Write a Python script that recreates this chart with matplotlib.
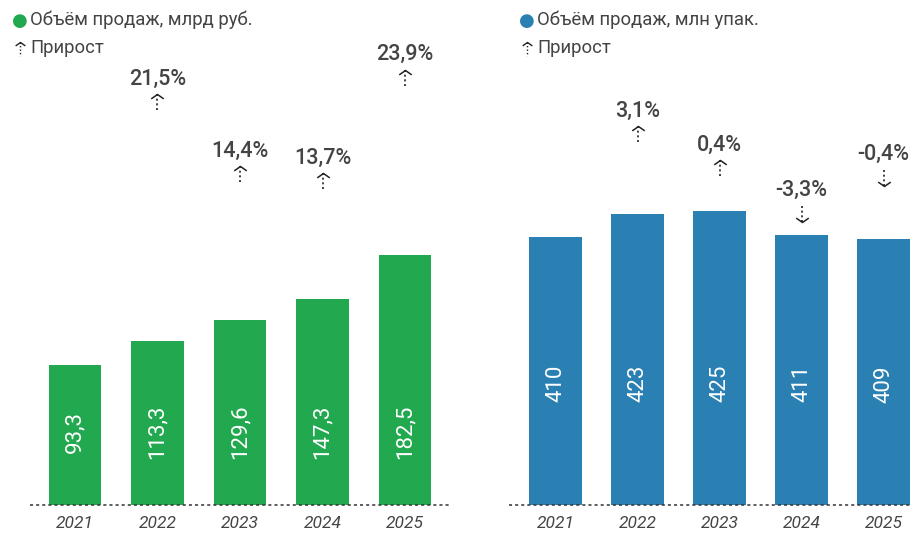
import numpy as np
import matplotlib
matplotlib.use("Agg")
from matplotlib import pyplot as plt
from matplotlib import transforms
from matplotlib.path import Path

plt.rcParams['font.family'] = ['Roboto', 'DejaVu Sans']

# --- data ---
years = ['2021', '2022', '2023', '2024', '2025']
sales_rub = [93.3, 113.3, 129.6, 147.3, 182.5]      # млрд руб.
growth_rub = [21.5, 14.4, 13.7, 23.9]                # % for 2022..2025
sales_pack = [410, 423, 425, 411, 409]               # млн упак.
growth_pack = [3.1, 0.4, -3.3, -0.4]                 # % for 2022..2025

legend_rub = 'Объём продаж, млрд руб.'
legend_pack = 'Объём продаж, млн упак.'
legend_growth = 'Прирост'

GREEN = '#22a84f'
BLUE = '#2a80b2'
TEXT = '#444444'
ARROW = '#222222'

W, H = 922, 534
fig = plt.figure(figsize=(W / 100, H / 100), dpi=100)

# open chevron used as arrow head
chev_up = Path([(-1, -0.7), (0, 0), (1, -0.7)], [Path.MOVETO, Path.LINETO, Path.LINETO])
chev_dn = Path([(-1, 0.7), (0, 0), (1, 0.7)], [Path.MOVETO, Path.LINETO, Path.LINETO])


def px_axes(x0, x1, y_top, y_bot):
    return fig.add_axes([x0 / W, (H - y_bot) / H, (x1 - x0) / W, (y_bot - y_top) / H])


def fmt(v, dec=1):
    return f'{v:.{dec}f}'.replace('.', ',')


def dotted_arrow(ax, x, y, up, dy0, dy1):
    # dotted stem from dy0 to dy1 pixels below (x, y), head on the upper end if up
    top = transforms.offset_copy(ax.transData, fig, x=0, y=-dy0, units='dots')
    bot = transforms.offset_copy(ax.transData, fig, x=0, y=-dy1, units='dots')
    p0 = top.transform((x, y))
    p1 = bot.transform((x, y))
    fig.add_artist(plt.Line2D([p0[0] / W, p1[0] / W], [p0[1] / H, p1[1] / H],
                              color=ARROW, lw=1.2, ls=(0, (1.2, 1.6)),
                              transform=fig.transFigure))
    head = p0 if up else p1
    fig.add_artist(plt.Line2D([head[0] / W], [head[1] / H], marker=chev_up if up else chev_dn,
                              markersize=9, mfc='none', mec=ARROW, mew=1.1, ls='none',
                              transform=fig.transFigure))


def panel(ax, values, growth, color, ylo, yhi, gmin, gmax, xlim, width, label_frac):
    x = np.arange(len(values))
    ax.bar(x, np.array(values) - ylo, bottom=ylo, width=width, color=color, zorder=2)
    ax.set_xlim(*xlim)
    ax.set_ylim(ylo, yhi)
    ax.axhline(ylo, color='#333333', lw=1.1, ls=(0, (2, 2)), zorder=3, clip_on=False)
    for s in ax.spines.values():
        s.set_visible(False)
    ax.set_yticks([])
    ax.set_xticks(x)
    ax.set_xticklabels(years, fontstyle='italic', fontsize=12.5, color=TEXT)
    ax.tick_params(axis='x', length=0, pad=8)

    # value labels inside bars
    tr = transforms.blended_transform_factory(ax.transData, ax.transAxes)
    for xi, v in zip(x, values):
        lab = fmt(v) if isinstance(v, float) else str(v)
        ax.text(xi, label_frac, lab, transform=tr, rotation=90, ha='center', va='center',
                color='white', fontsize=16)

    # growth labels on a hidden twin axis
    tw = ax.twinx()
    tw.set_ylim(gmin, gmax)
    tw.axis('off')
    fig.canvas.draw()
    for xi, g in zip(x[1:], growth):
        tw.text(xi, g, fmt(g) + '%', ha='center', va='center', color=TEXT,
                fontsize=15.5, fontweight='medium')
        dotted_arrow(tw, xi, g, g >= 0, 15, 31)


ax1 = px_axes(30, 450, 0, 505)
panel(ax1, sales_rub, growth_rub, GREEN, -20.1, 389.5, -20.54, 29.31,
      (-0.545, 4.545), 0.64, 0.145)

ax2 = px_axes(509, 910, 0, 505)
panel(ax2, sales_pack, growth_pack, BLUE, 254.5, 547.3, -28.64, 12.09,
      (-0.567, 4.323), 0.646, 0.24)

# legends
for dot_x, color, label in [(20, GREEN, legend_rub), (527, BLUE, legend_pack)]:
    fig.text(dot_x / W, 1 - 21 / H, '\u25cf', color=color, fontsize=13,
             ha='center', va='center', family='DejaVu Sans')
    fig.text((dot_x + 10) / W, 1 - 20 / H, label, color=TEXT, fontsize=13.3,
             ha='left', va='center')
    fig.text((dot_x + 10) / W, 1 - 48 / H, legend_growth, color=TEXT, fontsize=13.3,
             ha='left', va='center')
    p_top = 1 - 42 / H
    p_bot = 1 - 56 / H
    fig.add_artist(plt.Line2D([dot_x / W, dot_x / W], [p_top, p_bot], color=ARROW, lw=1,
                              ls=(0, (1, 1.5)), transform=fig.transFigure))
    fig.add_artist(plt.Line2D([dot_x / W], [p_top], marker=chev_up, markersize=7, mfc='none',
                              mec=ARROW, mew=1, ls='none', transform=fig.transFigure))

fig.savefig('out.png', dpi=100)
